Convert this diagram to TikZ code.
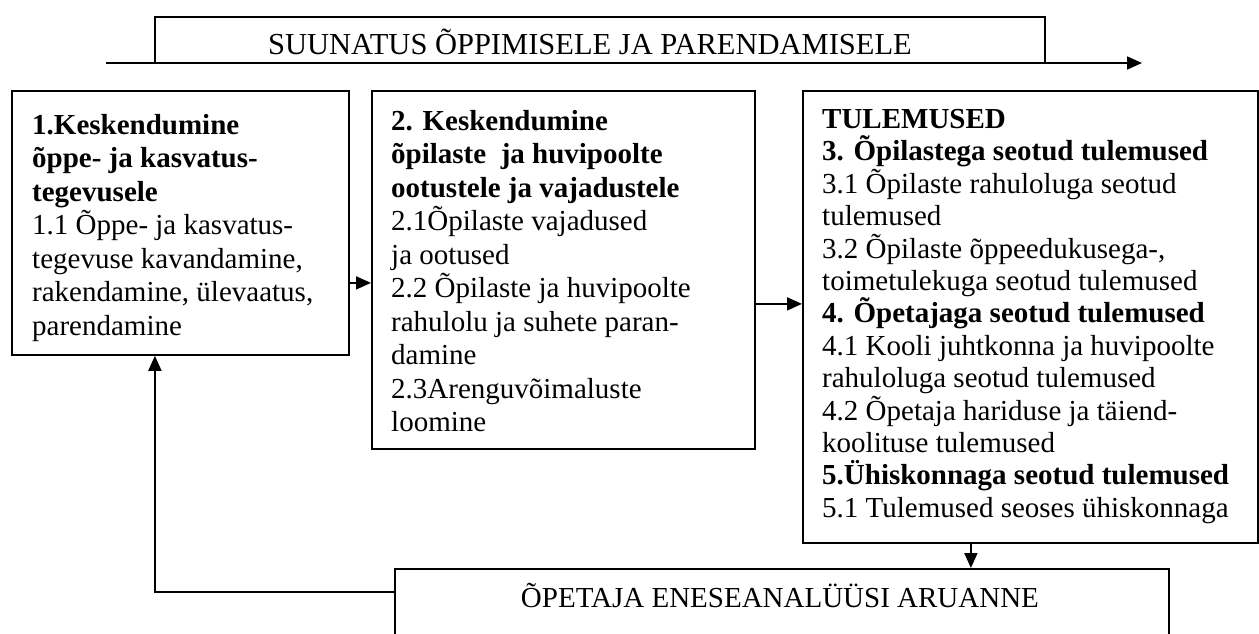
\documentclass[tikz,border=0pt]{standalone}
\usepackage{fontspec}
\setmainfont{Liberation Serif}
\usetikzlibrary{arrows.meta,positioning}
\tikzset{
  frame/.style={draw,line width=1.8pt,inner sep=0pt,anchor=north west},
  boxtext/.style={anchor=north west,align=left,inner sep=0pt,font=\fontsize{29}{33.5}\selectfont},
  flow/.style={line width=1.8pt,-{Triangle[length=15pt,width=13pt]}}
}
\begin{document}
\begin{tikzpicture}[x=1pt,y=-1pt]
\useasboundingbox (0,0) rectangle (1259,634);
% direction on top
\node[inner sep=0pt,minimum width=890pt,minimum height=46pt] (aim) at (600,40) {};
\draw[line width=1.8pt] (aim.south west) |- (aim.north) -| (aim.south east);
\node[font=\fontsize{30.5}{36}\selectfont,anchor=base] (aimtext) at (590,55) {SUUNATUS ÕPPIMISELE JA PARENDAMISELE};
\coordinate (aimstart) at (106,63);
\coordinate (aimend) at (1142,63);
\draw[flow] (aimstart) -- (aimend);
% the three boxes
\node[frame,minimum width=337pt,minimum height=264pt] (teach) at (11,90) {};
\node[frame,minimum width=383pt,minimum height=358pt] (pupils) at (371,90) {};
\node[frame,minimum width=455pt,minimum height=452pt] (results) at (802,90) {};
\node[boxtext] (teachtext) at (32,114) {\textbf{1.Keskendumine}\\
\textbf{õppe- ja kasvatus-}\\
\textbf{tegevusele}\\
1.1 Õppe- ja kasvatus-\\
tegevuse kavandamine,\\
rakendamine, ülevaatus,\\
parendamine};
\node[boxtext] (pupilstext) at (391,110) {\textbf{2. Keskendumine}\\
\textbf{õpilaste\ \ ja huvipoolte}\\
\textbf{ootustele ja vajadustele}\\
2.1Õpilaste vajadused\\
ja ootused\\
2.2 Õpilaste ja huvipoolte\\
rahulolu ja suhete paran-\\
damine\\
2.3Arenguvõimaluste\\
loomine};
\node[boxtext,font=\fontsize{29}{32.4}\selectfont] (resultstext) at (822,109) {\textbf{TULEMUSED}\\
\textbf{3. Õpilastega seotud tulemused}\\
3.1 Õpilaste rahuloluga seotud\\
tulemused\\
3.2 Õpilaste õppeedukusega-,\\
toimetulekuga seotud tulemused\\
\textbf{4. Õpetajaga seotud tulemused}\\
4.1 Kooli juhtkonna ja huvipoolte\\
rahuloluga seotud tulemused\\
4.2 Õpetaja hariduse ja täiend-\\
koolituse tulemused\\
\textbf{5.Ühiskonnaga seotud tulemused}\\
5.1 Tulemused seoses ühiskonnaga};
% report at the bottom
\node[frame,minimum width=774pt,minimum height=100pt] (report) at (394,568) {};
\node[font=\fontsize{29}{33.5}\selectfont,anchor=base] (reporttext) at (780,607) {ÕPETAJA ENESEANALÜÜSI ARUANNE};
% arrows
\draw[flow] ([yshift=-60pt]teach.east) -- ([yshift=-60pt]teach.east -| pupils.west);
\draw[flow] ([yshift=-34pt]pupils.east) -- ([yshift=-34pt]pupils.east -| results.west);
\draw[flow] ([xshift=-59.5pt]results.south) -- ([xshift=-59.5pt]results.south |- report.north);
\draw[flow] ([yshift=-24pt]report.north west) -| ([xshift=-25.5pt]teach.south);
\end{tikzpicture}
\end{document}
